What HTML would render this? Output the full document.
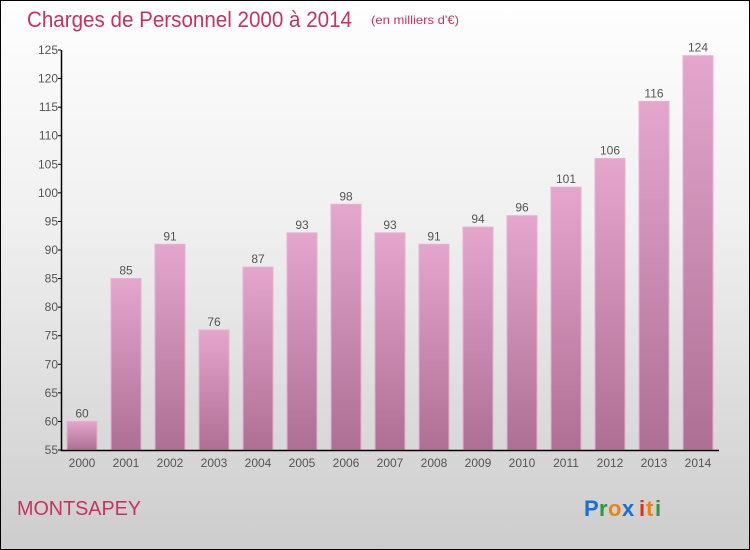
<!DOCTYPE html>
<html><head><meta charset="utf-8"><style>
body{margin:0}
#c{position:relative;width:748px;height:548px;border:1px solid #000;background:linear-gradient(#fefefe,#f0f0f0 40%,#cdcdcd);font-family:"Liberation Sans",sans-serif;overflow:hidden}
</style></head><body>
<div id="c">
<svg width="748" height="548" style="position:absolute;left:0;top:0" id="s">
<defs><linearGradient id="g" x1="0" y1="0" x2="0" y2="1"><stop offset="0" stop-color="#e4a6cc"/><stop offset="1" stop-color="#ad6f94"/></linearGradient></defs>
<text x="26" y="26" font-size="22" fill="#c8325f" textLength="325" lengthAdjust="spacingAndGlyphs">Charges de Personnel 2000 à 2014</text>
<text x="370" y="23" font-size="12" fill="#c8325f" textLength="88" lengthAdjust="spacingAndGlyphs">(en milliers d'€)</text>
<text x="16" y="514" font-size="20" fill="#c8325f" textLength="124" lengthAdjust="spacingAndGlyphs">MONTSAPEY</text>
<g font-size="22" font-weight="bold"><text x="583" y="515" fill="#1a6fcf">P</text><text x="598" y="515" fill="#2a9a3a">r</text><text x="607" y="515" fill="#f08010">o</text><text x="621" y="515" fill="#1a6fcf">x</text><text x="638" y="515" fill="#e03010">i</text><text x="645" y="515" fill="#f08010">t</text><text x="654" y="515" fill="#2a9a3a">i</text></g>
<g id="plot"></g>
</svg>
</div>
<script>
const years=["2000","2001","2002","2003","2004","2005","2006","2007","2008","2009","2010","2011","2012","2013","2014"];
const values=[60,85,91,76,87,93,98,93,91,94,96,101,106,116,124];
const ticks=[55,60,65,70,75,80,85,90,95,100,105,110,115,120,125];
const NS="http://www.w3.org/2000/svg",g=document.getElementById('plot');
const y=v=>449-(v-55)*400/70, x=i=>81+i*44;
function mk(t,a,txt){const e=document.createElementNS(NS,t);for(const k in a)e.setAttribute(k,a[k]);if(txt!=null)e.textContent=txt;g.appendChild(e);return e;}
ticks.forEach(t=>{
 const l=mk('line',{x1:57,x2:60,y1:y(t),y2:y(t),stroke:'#000'});
 
 
 const tx=mk('text',{x:57,y:y(t)+4,'font-size':12,fill:'#555','text-anchor':'end'},t);
 
 
});
values.forEach((v,i)=>{
 const r=mk('rect',{x:x(i)-15,y:y(v),width:30,height:449-y(v),fill:'url(#g)',stroke:'#e8b0d0','stroke-width':1});
 
 
 const vl=mk('text',{x:x(i),y:y(v)-4,'font-size':12,fill:'#555','text-anchor':'middle'},v);
 
 
 const xl=mk('text',{x:x(i),y:466,'font-size':12,fill:'#555','text-anchor':'middle'},years[i]);
 
 
});
const ax=mk('path',{d:'M60.5 49V449.5H718',stroke:'#000','stroke-width':1.5,fill:'none'});


</script>
</body></html>
